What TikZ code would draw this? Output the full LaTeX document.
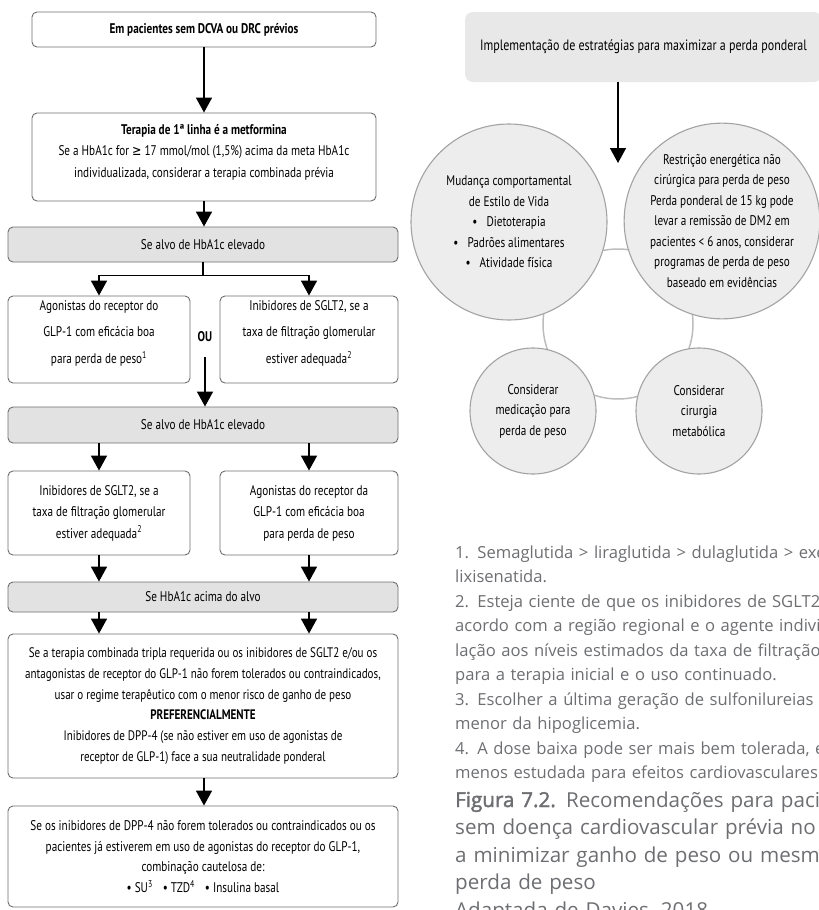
\documentclass[tikz,border=0pt]{standalone}
\usepackage{fontspec}
\usetikzlibrary{arrows.meta}
\setmainfont{PT Sans}
% condensed sans for the flowchart and the bubbles
\newfontfamily\cond[FakeStretch=0.8]{PT Sans}
\newfontfamily\condsym[FakeStretch=0.8]{DejaVu Sans}
% footnotes and caption
\newfontfamily\notefont{Open Sans}
\newfontfamily\notesemi[FakeBold=2]{Open Sans}
\definecolor{boxline}{HTML}{6E6E6E}
\definecolor{boxgray}{HTML}{E2E2E2}
\definecolor{hdrgray}{HTML}{E8E8E8}
\definecolor{circfill}{HTML}{EDEDED}
\definecolor{circline}{HTML}{A3A3A3}
\definecolor{ringgray}{HTML}{BDBDBD}
\definecolor{notegray}{HTML}{6D6E71}
% extra depth on a last line pushes a box's text upwards
\newcommand{\lift}[1]{\rule[-#1]{0pt}{1pt}}

\begin{document}
\begin{tikzpicture}[x=1pt,y=-1pt,
  flow/.style={font=\cond\fontsize{14}{21.5}\selectfont, align=center, inner sep=0pt,
               rounded corners=5pt, line width=0.9pt, draw=boxline},
  wbox/.style={flow, fill=white},
  gbox/.style={flow, fill=boxgray},
  tightflow/.style={font=\cond\fontsize{13.8}{20.8}\selectfont},
  smallflow/.style={font=\cond\fontsize{14}{20.8}\selectfont},
  wideflow/.style={font=\cond\fontsize{14}{26.5}\selectfont},
  arr/.style={-{Triangle[width=16pt,length=15pt]}, line width=1.6pt},
  link/.style={line width=1.6pt},
  hdrbox/.style={fill=hdrgray, rounded corners=8pt, inner sep=0pt,
                 font=\cond\fontsize{15}{18}\selectfont},
  bubble/.style={circle, draw=circline, fill=circfill, line width=1.1pt, inner sep=0pt,
                 align=center, font=\cond\fontsize{14}{20.5}\selectfont},
  ring/.style={draw=ringgray, line width=1.5pt},
  notes/.style={font=\notefont\fontsize{16.6}{24.5}\selectfont, text=notegray,
                align=left, inner sep=0pt, text width=620pt},
  captiontext/.style={font=\notefont\fontsize{20.6}{27.5}\selectfont, text=notegray,
                align=left, inner sep=0pt, text width=620pt}]
\useasboundingbox (0,0) rectangle (819,910);
\clip (0,0) rectangle (819,910);

% ---------------- flowchart ----------------
\node[wbox, minimum width=344pt, minimum height=35pt] (b1) at (204,29.5)
  {\bfseries Em pacientes sem DCVA ou DRC prévios};
\node[wbox, minimum width=344pt, minimum height=88pt] (b2) at (204,157)
  {{\bfseries Terapia de 1ª linha é a metformina}\\
   Se a HbA1c for {\condsym ≥} 17 mmol/mol (1,5\%) acima da meta HbA1c\\
   individualizada, considerar a terapia combinada prévia\lift{13pt}};
\node[gbox, minimum width=390pt, minimum height=35pt] (g1) at (203,244.5)
  {Se alvo de HbA1c elevado};

\node[wbox, wideflow, minimum width=182pt, minimum height=87pt] (a1) at (99,339.5)
  {Agonistas do receptor do\\GLP-1 com eficácia boa\\para perda de peso\textsuperscript{1}\lift{15pt}};
\node[wbox, wideflow, minimum width=178pt, minimum height=87pt] (a2) at (309,339.5)
  {Inibidores de SGLT2, se a\\taxa de filtração glomerular\\estiver adequada\textsuperscript{2}\lift{15pt}};
\node[font=\cond\bfseries\fontsize{14}{16}\selectfont, inner sep=1pt] (ou) at (205,337) {OU};

\node[gbox, minimum width=390pt, minimum height=36pt] (g2) at (203,425)
  {Se alvo de HbA1c elevado};

\node[wbox, minimum width=182pt, minimum height=84pt] (c1) at (99,513)
  {Inibidores de SGLT2, se a\\taxa de filtração glomerular\\estiver adequada\textsuperscript{2}};
\node[wbox, minimum width=178pt, minimum height=84pt] (c2) at (309,513)
  {Agonistas do receptor da\\GLP-1 com eficácia boa\\para perda de peso};

\node[gbox, minimum width=390pt, minimum height=30pt] (g3) at (203,597)
  {Se HbA1c acima do alvo};

\node[wbox, tightflow, minimum width=390pt, minimum height=144pt] (d1) at (203,706)
  {Se a terapia combinada tripla requerida ou os inibidores de SGLT2 e/ou os\\
   antagonistas de receptor do GLP-1 não forem tolerados ou contraindicados,\\
   usar o regime terapêutico com o menor risco de ganho de peso\\
   {\bfseries PREFERENCIALMENTE}\\
   Inibidores de DPP-4 (se não estiver em uso de agonistas de\\
   receptor de GLP-1) face a sua neutralidade ponderal};
\node[wbox, smallflow, minimum width=390pt, minimum height=101pt] (d2) at (203,856.5)
  {Se os inibidores de DPP-4 não forem tolerados ou contraindicados ou os\\
   pacientes já estiverem em uso de agonistas do receptor do GLP-1,\\
   combinação cautelosa de:\\
   • SU\textsuperscript{3}\enspace\ • TZD\textsuperscript{4}\enspace\ • Insulina basal};

% connectors
\draw[arr] (b1.south) -- (b2.north);
\draw[arr] (b2.south) -- (b2.south |- g1.north);
\coordinate (split1) at ([yshift=-13pt]g1.south);
\draw[link] (g1.south) -- (split1);
\draw[arr] (split1) -| (a1.north);
\draw[arr] (split1) -| (a2.north);
\draw[arr] ([yshift=-14pt]ou.south) -- (ou.south |- g2.north);
\draw[arr] (c1.north |- g2.south) -- (c1.north);
\draw[arr] (c2.north |- g2.south) -- (c2.north);
\draw[arr] (c1.south) -- (c1.south |- g3.north);
\draw[arr] (c2.south) -- (c2.south |- g3.north);
\draw[arr] (c1.south |- g3.south) -- (c1.south |- d1.north);
\draw[arr] (c2.south |- g3.south) -- (c2.south |- d1.north);
\draw[arr] (b1.south |- d1.south) -- (b1.south |- d2.north);

% ---------------- weight-loss cycle ----------------
\node[hdrbox, minimum width=357pt, minimum height=70pt] (hdr) at (643.5,47)
  {Implementação de estratégias para maximizar a perda ponderal};
\coordinate (tip) at (618,163);
\draw[arr] (hdr.south -| tip) -- (tip);

\coordinate (ringc) at (618,324);
\draw[ring] (ringc) circle[radius=75pt];

\node[bubble, minimum size=196pt] (lc) at (509,222)
  {Mudança comportamental\\de Estilo de Vida\\
   •\hspace{9pt}Dietoterapia\\
   •\hspace{9pt}Padrões alimentares\\
   •\hspace{9pt}Atividade física};
\node[bubble, minimum size=194pt] (rc) at (722,221)
  {Restrição energética não\\cirúrgica para perda de peso\\
   Perda ponderal de 15 kg pode\\levar a remissão de DM2 em\\
   pacientes < 6 anos, considerar\\programas de perda de peso\\
   baseado em evidências};
\node[bubble, minimum size=126pt] (bl) at (533,411)
  {Considerar\\medicação para\\perda de peso};
\node[bubble, minimum size=126pt] (br) at (699,411)
  {Considerar\\cirurgia\\metabólica};

% ---------------- footnotes and caption ----------------
\node[notes, anchor=base west] (fn) at (455,558)
  {1. Semaglutida > liraglutida > dulaglutida > exenatida >\\
   lixisenatida.\\
   2. Esteja ciente de que os inibidores de SGLT2 variam de\\
   acordo com a região regional e o agente individual em re-\\
   lação aos níveis estimados da taxa de filtração glomerular\\
   para a terapia inicial e o uso continuado.\\
   3. Escolher a última geração de sulfonilureias com risco\\
   menor da hipoglicemia.\\
   4. A dose baixa pode ser mais bem tolerada, embora\\
   menos estudada para efeitos cardiovasculares.};
\node[captiontext, anchor=base west] (cap) at (455,807)
  {{\notesemi Figura 7.2.} Recomendações para pacientes\\
   sem doença cardiovascular prévia no intuito de\\
   a minimizar ganho de peso ou mesmo promover\\
   perda de peso\\
   Adaptada de Davies, 2018.};
\end{tikzpicture}
\end{document}
